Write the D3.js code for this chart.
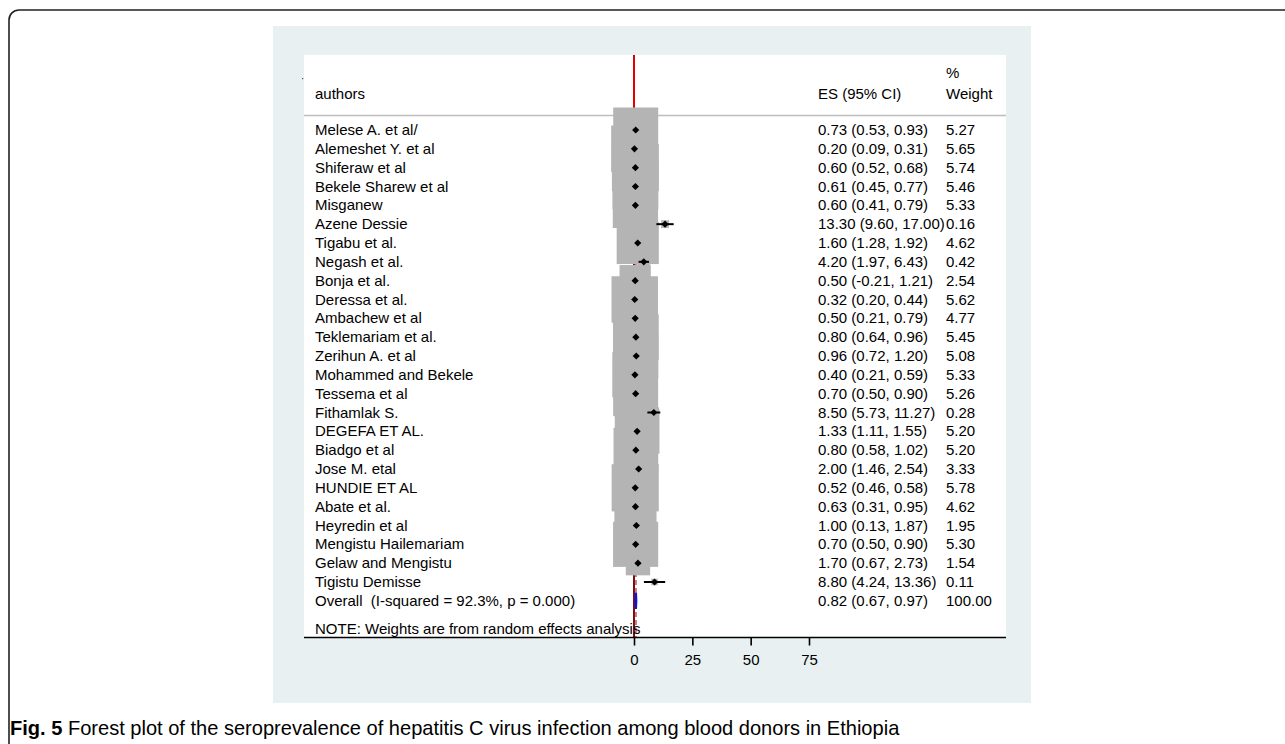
<!DOCTYPE html>
<html>
<head>
<meta charset="utf-8">
<script src="https://cdn.jsdelivr.net/npm/d3@7"></script>
<style>
  body { margin: 0; background: #fff; }
  svg { display: block; }
  text { font-family: "Liberation Sans", Arial, Helvetica, sans-serif; fill: #000; white-space: pre; }
</style>
</head>
<body>
<svg id="chart" width="1285" height="744"></svg>
<script>
// study data
const authors = ["Melese A. et al/", "Alemeshet Y. et al", "Shiferaw et al", "Bekele Sharew et al",
  "Misganew", "Azene Dessie", "Tigabu et al.", "Negash et al.", "Bonja et al.", "Deressa et al.",
  "Ambachew et al", "Teklemariam et al.", "Zerihun A. et al", "Mohammed and Bekele", "Tessema et al",
  "Fithamlak S.", "DEGEFA ET AL.", "Biadgo et al", "Jose M. etal", "HUNDIE ET AL", "Abate et al.",
  "Heyredin et al", "Mengistu Hailemariam", "Gelaw and Mengistu", "Tigistu Demisse"];
const es    = [0.73, 0.20, 0.60, 0.61, 0.60, 13.30, 1.60, 4.20, 0.50, 0.32, 0.50, 0.80, 0.96, 0.40, 0.70, 8.50, 1.33, 0.80, 2.00, 0.52, 0.63, 1.00, 0.70, 1.70, 8.80];
const lower = [0.53, 0.09, 0.52, 0.45, 0.41, 9.60, 1.28, 1.97, -0.21, 0.20, 0.21, 0.64, 0.72, 0.21, 0.50, 5.73, 1.11, 0.58, 1.46, 0.46, 0.31, 0.13, 0.50, 0.67, 4.24];
const upper = [0.93, 0.31, 0.68, 0.77, 0.79, 17.00, 1.92, 6.43, 1.21, 0.44, 0.79, 0.96, 1.20, 0.59, 0.90, 11.27, 1.55, 1.02, 2.54, 0.58, 0.95, 1.87, 0.90, 2.73, 13.36];
const weight = [5.27, 5.65, 5.74, 5.46, 5.33, 0.16, 4.62, 0.42, 2.54, 5.62, 4.77, 5.45, 5.08, 5.33, 5.26, 0.28, 5.20, 5.20, 3.33, 5.78, 4.62, 1.95, 5.30, 1.54, 0.11];
const overall = {label: "Overall  (I-squared = 92.3%, p = 0.000)", es: 0.82, lo: 0.67, hi: 0.97, w: "100.00"};
const xTicks = [0, 25, 50, 75];

// stata prints a plain hyphen for negatives
const fmt = d3.formatLocale({decimal: ".", thousands: ",", grouping: [3], currency: ["", ""], minus: "-"}).format(".2f");
const studies = authors.map((a, i) => ({author: a, es: es[i], lo: lower[i], hi: upper[i], w: weight[i]}));

const svg = d3.select("#chart");

// outer figure frame (runs off the right and bottom edge)
svg.append("rect").attr("x", 9).attr("y", 10).attr("width", 1400).attr("height", 900)
  .attr("rx", 10).attr("fill", "none").attr("stroke", "#222").attr("stroke-width", 1.6);

// graph panel + white plot region
svg.append("rect").attr("x", 273).attr("y", 26).attr("width", 758).attr("height", 677).attr("fill", "#e8f0f2");
svg.append("rect").attr("x", 304).attr("y", 55).attr("width", 702).attr("height", 582).attr("fill", "#fff");
svg.append("rect").attr("x", 302).attr("y", 78).attr("width", 1.2).attr("height", 1.2).attr("fill", "#555");

//###############################################
// scales
//###############################################
const x = d3.scaleLinear().domain([0, 75]).range([634, 809]);
const y = d3.scaleLinear().domain([0, studies.length - 1]).range([130, 582]);
const boxSize = d3.scaleSqrt().domain([0, 5.27]).range([0, 45]);

const colLabel = 315, colES = 818, colW = 946;

// header
const head = svg.append("g").style("font-size", "15px");
head.append("text").attr("x", colLabel).attr("y", 99).text("authors");
head.append("text").attr("x", colES).attr("y", 99).text("ES (95% CI)");
head.append("text").attr("x", colW).attr("y", 78).text("%");
head.append("text").attr("x", colW).attr("y", 99).text("Weight");
svg.append("line").attr("x1", 304).attr("x2", 1006).attr("y1", 115.5).attr("y2", 115.5)
  .attr("stroke", "#bdbdbd").attr("stroke-width", 1.5);

// reference lines
svg.append("line").attr("x1", x(0)).attr("x2", x(0)).attr("y1", 55).attr("y2", 116)
  .attr("stroke", "#e00000").attr("stroke-width", 2);
svg.append("line").attr("x1", x(0)).attr("x2", x(0)).attr("y1", 116).attr("y2", 637)
  .attr("stroke", "#7a0c0c").attr("stroke-width", 2);
svg.append("line").attr("x1", x(overall.es)).attr("x2", x(overall.es)).attr("y1", 116).attr("y2", 637)
  .attr("stroke", "#c97b7b").attr("stroke-width", 2).attr("stroke-dasharray", "5,3");

// weight boxes
svg.append("g").selectAll("rect").data(studies).join("rect")
  .attr("x", d => x(d.es) - boxSize(d.w) / 2)
  .attr("y", (d, i) => y(i) - boxSize(d.w) / 2)
  .attr("width", d => boxSize(d.w))
  .attr("height", d => boxSize(d.w))
  .attr("fill", "#b4b4b4");

// confidence intervals
svg.append("g").selectAll("line").data(studies).join("line")
  .attr("x1", d => x(d.lo)).attr("x2", d => x(d.hi))
  .attr("y1", (d, i) => y(i)).attr("y2", (d, i) => y(i))
  .attr("stroke", "#000").attr("stroke-width", 2);

// point estimates
const dm = 3.6;
svg.append("g").selectAll("path").data(studies).join("path")
  .attr("d", (d, i) => {
    const cx = x(d.es), cy = y(i);
    return `M${cx - dm},${cy}L${cx},${cy - dm}L${cx + dm},${cy}L${cx},${cy + dm}Z`;
  })
  .attr("fill", "#000");

// overall diamond
const oy = y(studies.length);
svg.append("path")
  .attr("d", `M${x(overall.lo)},${oy}L${x(overall.es)},${oy - 8}L${x(overall.hi)},${oy}L${x(overall.es)},${oy + 8}Z`)
  .attr("fill", "#1010e0").attr("stroke", "#1010e0").attr("stroke-width", 2.2);

// text columns
const rows = svg.append("g").style("font-size", "15px");
rows.selectAll(".lab").data(studies).join("text").attr("class", "lab")
  .attr("x", colLabel).attr("y", (d, i) => y(i) + 5).text(d => d.author);
rows.selectAll(".es").data(studies).join("text").attr("class", "es")
  .attr("x", colES).attr("y", (d, i) => y(i) + 5)
  .text(d => `${fmt(d.es)} (${fmt(d.lo)}, ${fmt(d.hi)})`);
rows.selectAll(".w").data(studies).join("text").attr("class", "w")
  .attr("x", colW).attr("y", (d, i) => y(i) + 5).text(d => fmt(d.w));

rows.append("text").attr("x", colLabel).attr("y", oy + 5).text(overall.label);
rows.append("text").attr("x", colES).attr("y", oy + 5)
  .text(`${fmt(overall.es)} (${fmt(overall.lo)}, ${fmt(overall.hi)})`);
rows.append("text").attr("x", colW).attr("y", oy + 5).text(overall.w);
rows.append("text").attr("x", colLabel).attr("y", y(studies.length + 1.5) + 5)
  .text("NOTE: Weights are from random effects analysis");

// x axis
svg.append("line").attr("x1", 304).attr("x2", 1006).attr("y1", 637.5).attr("y2", 637.5)
  .attr("stroke", "#000").attr("stroke-width", 1.6);
const ax = svg.append("g").attr("transform", "translate(0,637.5)")
  .call(d3.axisBottom(x).tickValues(xTicks).tickSize(8).tickPadding(9).tickFormat(d3.format("d")));
ax.select(".domain").remove();
ax.selectAll(".tick line").attr("stroke", "#000").attr("stroke-width", 1.6);
ax.selectAll(".tick text").style("font-size", "15px")
  .style("font-family", "'Liberation Sans', Arial, sans-serif").attr("fill", "#000");

// caption
const cap = svg.append("text").attr("x", 10).attr("y", 735)
  .style("font-family", "'Liberation Sans Narrow', 'Arial Narrow', 'Liberation Sans', sans-serif")
  .style("font-size", "20px").attr("fill", "#111");
cap.append("tspan").style("font-weight", "bold").text("Fig. 5");
cap.append("tspan").text(" Forest plot of the seroprevalence of hepatitis C virus infection among blood donors in Ethiopia");
const cw = cap.node().getComputedTextLength();
cap.attr("transform", `translate(10,0) scale(${890 / cw},1) translate(-10,0)`);
</script>
</body>
</html>
